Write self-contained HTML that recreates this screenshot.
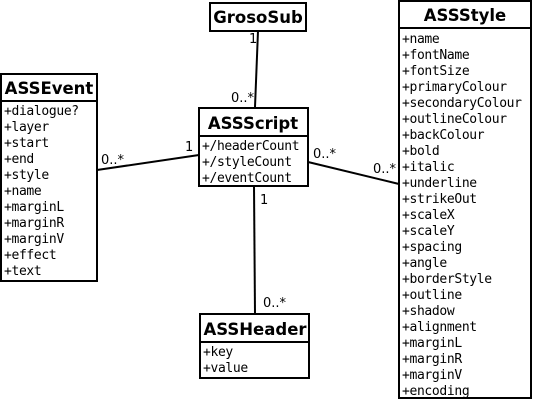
<!DOCTYPE html>
<html><head><style>
html,body{margin:0;padding:0;background:#fff;}
svg{display:block;}
.t{font-family:"DejaVu Sans","Liberation Sans",sans-serif;font-weight:bold;font-size:16.5px;}
.a{font-family:"DejaVu Sans Mono","Liberation Mono",monospace;font-size:13px;letter-spacing:-0.35px;}
.l{font-family:"DejaVu Sans","Liberation Sans",sans-serif;font-size:13px;}
</style></head><body>
<svg width="533" height="402" viewBox="0 0 533 402" xmlns="http://www.w3.org/2000/svg">
<g stroke="#000" stroke-width="2" fill="none">
<line x1="258" y1="31" x2="255" y2="107"/>
<line x1="97" y1="170" x2="199" y2="155"/>
<line x1="308" y1="162" x2="399" y2="184"/>
<line x1="254" y1="186" x2="255" y2="314"/>
<rect x="210" y="3" width="96" height="28" fill="#fff"/>
<rect x="1" y="74" width="96" height="207" fill="#fff"/>
<line x1="1" y1="101" x2="97" y2="101"/>
<rect x="199" y="108" width="109" height="78" fill="#fff"/>
<line x1="199" y1="136" x2="308" y2="136"/>
<rect x="399" y="1" width="132" height="397" fill="#fff"/>
<line x1="399" y1="28" x2="531" y2="28"/>
<rect x="200" y="314" width="109" height="64" fill="#fff"/>
<line x1="200" y1="342" x2="309" y2="342"/>
</g>
<g class="t" text-anchor="middle">
<text x="258" y="23">GrosoSub</text>
<text x="49" y="94">ASSEvent</text>
<text x="253" y="129">ASSScript</text>
<text x="465" y="21">ASSStyle</text>
<text x="255" y="335">ASSHeader</text>
</g>
<g class="a">
<text x="4" y="115">+dialogue?</text>
<text x="4" y="131">+layer</text>
<text x="4" y="147">+start</text>
<text x="4" y="163">+end</text>
<text x="4" y="179">+style</text>
<text x="4" y="195">+name</text>
<text x="4" y="211">+marginL</text>
<text x="4" y="227">+marginR</text>
<text x="4" y="243">+marginV</text>
<text x="4" y="259">+effect</text>
<text x="4" y="275">+text</text>
<text x="202" y="150">+/headerCount</text>
<text x="202" y="166">+/styleCount</text>
<text x="202" y="182">+/eventCount</text>
<text x="203" y="356">+key</text>
<text x="203" y="372">+value</text>
<text x="402" y="43">+name</text>
<text x="402" y="59">+fontName</text>
<text x="402" y="75">+fontSize</text>
<text x="402" y="91">+primaryColour</text>
<text x="402" y="107">+secondaryColour</text>
<text x="402" y="123">+outlineColour</text>
<text x="402" y="139">+backColour</text>
<text x="402" y="155">+bold</text>
<text x="402" y="171">+italic</text>
<text x="402" y="187">+underline</text>
<text x="402" y="203">+strikeOut</text>
<text x="402" y="219">+scaleX</text>
<text x="402" y="235">+scaleY</text>
<text x="402" y="251">+spacing</text>
<text x="402" y="267">+angle</text>
<text x="402" y="283">+borderStyle</text>
<text x="402" y="299">+outline</text>
<text x="402" y="315">+shadow</text>
<text x="402" y="331">+alignment</text>
<text x="402" y="347">+marginL</text>
<text x="402" y="363">+marginR</text>
<text x="402" y="379">+marginV</text>
<text x="402" y="395">+encoding</text>
</g>
<g class="l">
<text x="249" y="43">1</text>
<text x="231" y="102">0..*</text>
<text x="101" y="164">0..*</text>
<text x="185" y="151">1</text>
<text x="313" y="158">0..*</text>
<text x="373" y="173">0..*</text>
<text x="260" y="204">1</text>
<text x="263" y="307">0..*</text>
</g>
</svg>
</body></html>
